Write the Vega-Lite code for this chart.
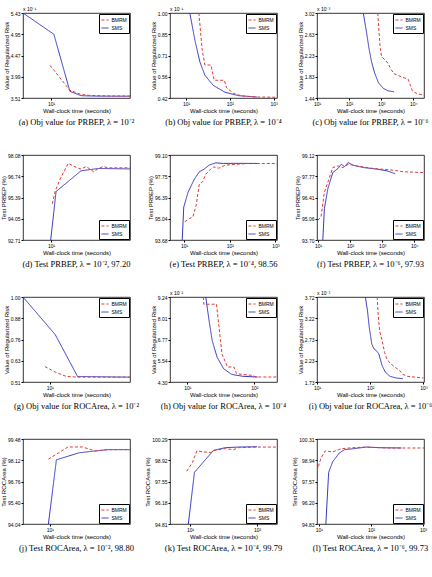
{
  "$schema": "https://vega.github.io/schema/vega-lite/v6.json",
  "padding": {"left": 0, "top": 6, "right": 0, "bottom": 0},
  "bounds": "flush",
  "columns": 3,
  "spacing": {"column": 40, "row": 57},
  "config": {
    "font": "Liberation Sans",
    "view": {"stroke": "black", "strokeWidth": 0.8},
    "axis": {"grid": false, "domain": false, "labelFontSize": 5, "titleFontSize": 6, "titleFontWeight": "normal", "tickSize": 2, "tickColor": "black", "labelColor": "black", "titleColor": "black", "labelPadding": 1, "titlePadding": 1, "labelOverlap": false, "labelFlush": false},
    "title": {"font": "Liberation Serif", "fontSize": 8.5, "fontWeight": "normal", "orient": "bottom", "offset": 5, "color": "black", "anchor": "middle"},
    "legend": {"title": null, "strokeColor": "black", "fillColor": "white", "padding": 1.5, "labelFontSize": 5, "symbolType": "stroke", "symbolSize": 50, "symbolStrokeWidth": 1, "rowPadding": 0, "offset": 1, "cornerRadius": 0, "labelLimit": 40, "labelOffset": 2}
  },
  "resolve": {"scale": {"x": "independent", "y": "independent", "color": "independent", "strokeDash": "independent"}, "legend": {"color": "independent", "strokeDash": "independent"}},
  "data": {"values": [
    {"p":"a","m":"SMS","t":5,"v":5.43},{"p":"a","m":"SMS","t":10.7,"v":4.95},{"p":"a","m":"SMS","t":15.9,"v":3.66},{"p":"a","m":"SMS","t":20.9,"v":3.563},{"p":"a","m":"SMS","t":30,"v":3.552},{"p":"a","m":"SMS","t":70,"v":3.55},
    {"p":"a","m":"BMRM","t":9.75,"v":4.246},{"p":"a","m":"BMRM","t":15.9,"v":3.685},{"p":"a","m":"BMRM","t":20.9,"v":3.59},{"p":"a","m":"BMRM","t":25.4,"v":3.57},{"p":"a","m":"BMRM","t":40,"v":3.556},{"p":"a","m":"BMRM","t":70,"v":3.555},

    {"p":"b","m":"SMS","t":12.2,"v":1.0},{"p":"b","m":"SMS","t":15.8,"v":0.819},{"p":"b","m":"SMS","t":20.6,"v":0.668},{"p":"b","m":"SMS","t":26.9,"v":0.575},{"p":"b","m":"SMS","t":41.8,"v":0.506},{"p":"b","m":"SMS","t":77.5,"v":0.459},{"p":"b","m":"SMS","t":157,"v":0.436},{"p":"b","m":"SMS","t":413,"v":0.427},
    {"p":"b","m":"BMRM","t":19.6,"v":1.0},{"p":"b","m":"BMRM","t":23.3,"v":0.749},{"p":"b","m":"BMRM","t":26.9,"v":0.645},{"p":"b","m":"BMRM","t":36.9,"v":0.645},{"p":"b","m":"BMRM","t":44,"v":0.541},{"p":"b","m":"BMRM","t":74.6,"v":0.541},{"p":"b","m":"BMRM","t":84.4,"v":0.49},{"p":"b","m":"BMRM","t":120,"v":0.452},{"p":"b","m":"BMRM","t":187,"v":0.434},{"p":"b","m":"BMRM","t":379,"v":0.427},{"p":"b","m":"BMRM","t":1190,"v":0.425},

    {"p":"c","m":"SMS","t":276,"v":3.02},{"p":"c","m":"SMS","t":347,"v":2.67},{"p":"c","m":"SMS","t":415,"v":2.364},{"p":"c","m":"SMS","t":497,"v":2.12},{"p":"c","m":"SMS","t":622,"v":1.908},{"p":"c","m":"SMS","t":816,"v":1.726},{"p":"c","m":"SMS","t":1146,"v":1.622},{"p":"c","m":"SMS","t":1607,"v":1.574},{"p":"c","m":"SMS","t":2524,"v":1.556},
    {"p":"c","m":"BMRM","t":780,"v":3.02},{"p":"c","m":"BMRM","t":853,"v":2.67},{"p":"c","m":"BMRM","t":933,"v":2.364},{"p":"c","m":"BMRM","t":1023,"v":2.212},{"p":"c","m":"BMRM","t":1282,"v":2.151},{"p":"c","m":"BMRM","t":1607,"v":2.09},{"p":"c","m":"BMRM","t":2014,"v":1.97},{"p":"c","m":"BMRM","t":2524,"v":1.89},{"p":"c","m":"BMRM","t":4436,"v":1.829},{"p":"c","m":"BMRM","t":6966,"v":1.786},{"p":"c","m":"BMRM","t":8163,"v":1.665},{"p":"c","m":"BMRM","t":9340,"v":1.574},{"p":"c","m":"BMRM","t":13750,"v":1.513},{"p":"c","m":"BMRM","t":21500,"v":1.5},

    {"p":"d","m":"SMS","t":9.9,"v":92.71},{"p":"d","m":"SMS","t":11.3,"v":95.77},{"p":"d","m":"SMS","t":20.9,"v":97.08},{"p":"d","m":"SMS","t":32.1,"v":97.23},{"p":"d","m":"SMS","t":70,"v":97.2},
    {"p":"d","m":"BMRM","t":10.3,"v":95.0},{"p":"d","m":"BMRM","t":11.1,"v":95.83},{"p":"d","m":"BMRM","t":12.5,"v":96.56},{"p":"d","m":"BMRM","t":15.3,"v":97.56},{"p":"d","m":"BMRM","t":17.1,"v":97.39},{"p":"d","m":"BMRM","t":20.9,"v":97.19},{"p":"d","m":"BMRM","t":23.8,"v":97.35},{"p":"d","m":"BMRM","t":28.6,"v":97.02},{"p":"d","m":"BMRM","t":32.1,"v":97.23},{"p":"d","m":"BMRM","t":36.1,"v":97.35},{"p":"d","m":"BMRM","t":40.7,"v":97.27},{"p":"d","m":"BMRM","t":70,"v":97.27},

    {"p":"e","m":"SMS","t":9.07,"v":93.68},{"p":"e","m":"SMS","t":9.8,"v":95.78},{"p":"e","m":"SMS","t":12.2,"v":96.73},{"p":"e","m":"SMS","t":16.8,"v":97.57},{"p":"e","m":"SMS","t":21.5,"v":98.03},{"p":"e","m":"SMS","t":27.4,"v":98.2},{"p":"e","m":"SMS","t":35.1,"v":98.45},{"p":"e","m":"SMS","t":48.7,"v":98.6},{"p":"e","m":"SMS","t":73.1,"v":98.56},{"p":"e","m":"SMS","t":119,"v":98.57},{"p":"e","m":"SMS","t":406,"v":98.56},
    {"p":"e","m":"BMRM","t":10.3,"v":94.84},{"p":"e","m":"BMRM","t":13.1,"v":95.05},{"p":"e","m":"BMRM","t":15.5,"v":95.15},{"p":"e","m":"BMRM","t":18.3,"v":95.89},{"p":"e","m":"BMRM","t":21.5,"v":97.25},{"p":"e","m":"BMRM","t":25.4,"v":97.4},{"p":"e","m":"BMRM","t":29.8,"v":97.88},{"p":"e","m":"BMRM","t":38.1,"v":98.2},{"p":"e","m":"BMRM","t":44.8,"v":98.34},{"p":"e","m":"BMRM","t":57.2,"v":98.26},{"p":"e","m":"BMRM","t":79.4,"v":98.45},{"p":"e","m":"BMRM","t":141,"v":98.51},{"p":"e","m":"BMRM","t":249,"v":98.56},{"p":"e","m":"BMRM","t":1080,"v":98.56},

    {"p":"f","m":"SMS","t":14.1,"v":93.7},{"p":"f","m":"SMS","t":15.8,"v":95.7},{"p":"f","m":"SMS","t":20.2,"v":96.96},{"p":"f","m":"SMS","t":29,"v":98.01},{"p":"f","m":"SMS","t":41.8,"v":98.26},{"p":"f","m":"SMS","t":53.2,"v":98.53},{"p":"f","m":"SMS","t":67.6,"v":98.38},{"p":"f","m":"SMS","t":86.5,"v":98.64},{"p":"f","m":"SMS","t":124,"v":98.47},{"p":"f","m":"SMS","t":257,"v":98.32},{"p":"f","m":"SMS","t":676,"v":98.22},{"p":"f","m":"SMS","t":1397,"v":98.11},{"p":"f","m":"SMS","t":2270,"v":97.96},{"p":"f","m":"SMS","t":2550,"v":97.93},
    {"p":"f","m":"BMRM","t":9.8,"v":94.96},{"p":"f","m":"BMRM","t":12.4,"v":95.17},{"p":"f","m":"BMRM","t":15.8,"v":96.75},{"p":"f","m":"BMRM","t":20.2,"v":97.38},{"p":"f","m":"BMRM","t":29,"v":98.32},{"p":"f","m":"BMRM","t":41.8,"v":98.43},{"p":"f","m":"BMRM","t":60.2,"v":98.32},{"p":"f","m":"BMRM","t":86.5,"v":98.53},{"p":"f","m":"BMRM","t":158,"v":98.43},{"p":"f","m":"BMRM","t":532,"v":98.26},{"p":"f","m":"BMRM","t":1780,"v":98.17},{"p":"f","m":"BMRM","t":4700,"v":98.05},{"p":"f","m":"BMRM","t":20000,"v":98.0},

    {"p":"g","m":"SMS","t":5.5,"v":1.0},{"p":"g","m":"SMS","t":11.3,"v":0.783},{"p":"g","m":"SMS","t":18.6,"v":0.542},{"p":"g","m":"SMS","t":60,"v":0.538},
    {"p":"g","m":"BMRM","t":8.97,"v":0.599},{"p":"g","m":"BMRM","t":11.3,"v":0.567},{"p":"g","m":"BMRM","t":14.5,"v":0.542},{"p":"g","m":"BMRM","t":18.6,"v":0.538},{"p":"g","m":"BMRM","t":60,"v":0.538},

    {"p":"h","m":"SMS","t":18.8,"v":9.24},{"p":"h","m":"SMS","t":21.1,"v":7.86},{"p":"h","m":"SMS","t":23.5,"v":6.7},{"p":"h","m":"SMS","t":27.8,"v":5.74},{"p":"h","m":"SMS","t":34.8,"v":5.07},{"p":"h","m":"SMS","t":45.9,"v":4.74},{"p":"h","m":"SMS","t":67.6,"v":4.63},{"p":"h","m":"SMS","t":112,"v":4.59},
    {"p":"h","m":"BMRM","t":17.4,"v":9.24},{"p":"h","m":"BMRM","t":17.6,"v":8.82},{"p":"h","m":"BMRM","t":27.2,"v":8.82},{"p":"h","m":"BMRM","t":32.9,"v":5.93},{"p":"h","m":"BMRM","t":39.7,"v":5.17},{"p":"h","m":"BMRM","t":49.7,"v":5.17},{"p":"h","m":"BMRM","t":54.3,"v":4.78},{"p":"h","m":"BMRM","t":94.6,"v":4.68},{"p":"h","m":"BMRM","t":106,"v":4.59},{"p":"h","m":"BMRM","t":218,"v":4.59},

    {"p":"i","m":"SMS","t":81,"v":3.72},{"p":"i","m":"SMS","t":89,"v":3.395},{"p":"i","m":"SMS","t":96,"v":3.008},{"p":"i","m":"SMS","t":107,"v":2.62},{"p":"i","m":"SMS","t":118,"v":2.504},{"p":"i","m":"SMS","t":130,"v":2.466},{"p":"i","m":"SMS","t":145,"v":2.388},{"p":"i","m":"SMS","t":167,"v":2.117},{"p":"i","m":"SMS","t":192,"v":1.962},{"p":"i","m":"SMS","t":236,"v":1.862},{"p":"i","m":"SMS","t":310,"v":1.823},{"p":"i","m":"SMS","t":410,"v":1.808},
    {"p":"i","m":"BMRM","t":135,"v":3.72},{"p":"i","m":"BMRM","t":141,"v":3.317},{"p":"i","m":"BMRM","t":150,"v":2.93},{"p":"i","m":"BMRM","t":167,"v":2.7},{"p":"i","m":"BMRM","t":186,"v":2.427},{"p":"i","m":"BMRM","t":205,"v":2.272},{"p":"i","m":"BMRM","t":236,"v":2.171},{"p":"i","m":"BMRM","t":290,"v":2.078},{"p":"i","m":"BMRM","t":357,"v":2.0},{"p":"i","m":"BMRM","t":410,"v":1.908},{"p":"i","m":"BMRM","t":505,"v":1.862},{"p":"i","m":"BMRM","t":666,"v":1.846},{"p":"i","m":"BMRM","t":1000,"v":1.823},

    {"p":"j","m":"SMS","t":9.7,"v":94.04},{"p":"j","m":"SMS","t":11.6,"v":98.15},{"p":"j","m":"SMS","t":19.3,"v":98.6},{"p":"j","m":"SMS","t":36.6,"v":98.8},{"p":"j","m":"SMS","t":60,"v":98.8},
    {"p":"j","m":"BMRM","t":9.7,"v":98.19},{"p":"j","m":"BMRM","t":12.2,"v":98.6},{"p":"j","m":"BMRM","t":15,"v":98.97},{"p":"j","m":"BMRM","t":20.7,"v":98.97},{"p":"j","m":"BMRM","t":27.5,"v":98.72},{"p":"j","m":"BMRM","t":36.6,"v":98.8},{"p":"j","m":"BMRM","t":60,"v":98.8},

    {"p":"k","m":"SMS","t":9.4,"v":94.81},{"p":"k","m":"SMS","t":11.6,"v":98.14},{"p":"k","m":"SMS","t":16.8,"v":98.94},{"p":"k","m":"SMS","t":22.4,"v":99.56},{"p":"k","m":"SMS","t":33.5,"v":99.73},{"p":"k","m":"SMS","t":53,"v":99.77},{"p":"k","m":"SMS","t":100,"v":99.79},
    {"p":"k","m":"BMRM","t":8.9,"v":98.21},{"p":"k","m":"BMRM","t":10.8,"v":98.77},{"p":"k","m":"BMRM","t":12.6,"v":99.52},{"p":"k","m":"BMRM","t":15.8,"v":99.46},{"p":"k","m":"BMRM","t":20,"v":99.42},{"p":"k","m":"BMRM","t":23.7,"v":99.56},{"p":"k","m":"BMRM","t":33.5,"v":99.67},{"p":"k","m":"BMRM","t":44.6,"v":99.6},{"p":"k","m":"BMRM","t":53,"v":99.73},{"p":"k","m":"BMRM","t":100,"v":99.77},{"p":"k","m":"BMRM","t":199,"v":99.77},

    {"p":"l","m":"SMS","t":13.6,"v":94.83},{"p":"l","m":"SMS","t":15.4,"v":98.16},{"p":"l","m":"SMS","t":18.4,"v":98.85},{"p":"l","m":"SMS","t":24.7,"v":99.41},{"p":"l","m":"SMS","t":30.9,"v":99.62},{"p":"l","m":"SMS","t":44.8,"v":99.68},{"p":"l","m":"SMS","t":81,"v":99.79},{"p":"l","m":"SMS","t":147,"v":99.75},{"p":"l","m":"SMS","t":385,"v":99.73},
    {"p":"l","m":"BMRM","t":9.2,"v":98.23},{"p":"l","m":"BMRM","t":10.9,"v":99.06},{"p":"l","m":"BMRM","t":13.2,"v":99.54},{"p":"l","m":"BMRM","t":18.4,"v":99.48},{"p":"l","m":"BMRM","t":26.7,"v":99.68},{"p":"l","m":"BMRM","t":44.8,"v":99.75},{"p":"l","m":"BMRM","t":81,"v":99.79},{"p":"l","m":"BMRM","t":198,"v":99.73},{"p":"l","m":"BMRM","t":1040,"v":99.73}
  ]},
  "concat": [
    {"width": 107, "height": 85, "title": {"text": "(a) Obj value for PRBEP, λ = 10⁻²"},
     "layer": [
      {"transform": [{"filter": "datum.p == 'a'"}], "mark": {"type": "line", "strokeWidth": 1, "clip": true},
       "encoding": {
        "x": {"field": "t", "type": "quantitative", "scale": {"type": "log", "domain": [5, 70], "nice": false}, "axis": {"values": [10], "labelExpr": "'10' + ['⁰','¹','²','³','⁴'][round(log(datum.value)/LN10)]", "title": "Wall-clock time (seconds)"}},
        "y": {"field": "v", "type": "quantitative", "scale": {"domain": [3.51, 5.43], "nice": false, "zero": false}, "axis": {"values": [3.51, 3.99, 4.47, 4.95, 5.43], "format": ".2f", "title": "Value of Regularized Risk"}},
        "color": {"field": "m", "type": "nominal", "scale": {"domain": ["BMRM", "SMS"], "range": ["#e03a3a", "#3535c8"]}, "legend": {"orient": "top-right"}},
        "strokeDash": {"field": "m", "type": "nominal", "scale": {"domain": ["BMRM", "SMS"], "range": [[3, 2], [1, 0]]}, "legend": {"orient": "top-right"}}}},
      {"data": {"values": [{}]}, "mark": {"type": "text", "align": "left", "baseline": "bottom", "fontSize": 5, "dy": -1},
       "encoding": {
        "x": {"datum": 5, "type": "quantitative", "axis": {"values": [10], "labelExpr": "'10' + ['⁰','¹','²','³','⁴'][round(log(datum.value)/LN10)]", "title": "Wall-clock time (seconds)"}},
        "y": {"datum": 5.43, "type": "quantitative", "axis": {"values": [3.51, 3.99, 4.47, 4.95, 5.43], "format": ".2f", "title": "Value of Regularized Risk"}},
        "text": {"value": "x 10⁻¹"}}}
     ]},
    {"width": 107, "height": 85, "title": {"text": "(b) Obj value for PRBEP, λ = 10⁻⁴"},
     "layer": [
      {"transform": [{"filter": "datum.p == 'b'"}], "mark": {"type": "line", "strokeWidth": 1, "clip": true},
       "encoding": {
        "x": {"field": "t", "type": "quantitative", "scale": {"type": "log", "domain": [4.3, 1190], "nice": false}, "axis": {"values": [10, 100, 1000], "labelExpr": "'10' + ['⁰','¹','²','³','⁴'][round(log(datum.value)/LN10)]", "title": "Wall-clock time (seconds)"}},
        "y": {"field": "v", "type": "quantitative", "scale": {"domain": [0.42, 1.0], "nice": false, "zero": false}, "axis": {"values": [0.42, 0.565, 0.71, 0.855, 1.0], "format": ".2f", "title": "Value of Regularized Risk"}},
        "color": {"field": "m", "type": "nominal", "scale": {"domain": ["BMRM", "SMS"], "range": ["#e03a3a", "#3535c8"]}, "legend": {"orient": "top-right"}},
        "strokeDash": {"field": "m", "type": "nominal", "scale": {"domain": ["BMRM", "SMS"], "range": [[3, 2], [1, 0]]}, "legend": {"orient": "top-right"}}}},
      {"data": {"values": [{}]}, "mark": {"type": "text", "align": "left", "baseline": "bottom", "fontSize": 5, "dy": -1},
       "encoding": {
        "x": {"datum": 4.3, "type": "quantitative", "axis": {"values": [10, 100, 1000], "labelExpr": "'10' + ['⁰','¹','²','³','⁴'][round(log(datum.value)/LN10)]", "title": "Wall-clock time (seconds)"}},
        "y": {"datum": 1.0, "type": "quantitative", "axis": {"values": [0.42, 0.565, 0.71, 0.855, 1.0], "format": ".2f", "title": "Value of Regularized Risk"}},
        "text": {"value": "x 10⁻¹"}}}
     ]},
    {"width": 107, "height": 85, "title": {"text": "(c) Obj value for PRBEP, λ = 10⁻⁶"},
     "layer": [
      {"transform": [{"filter": "datum.p == 'c'"}], "mark": {"type": "line", "strokeWidth": 1, "clip": true},
       "encoding": {
        "x": {"field": "t", "type": "quantitative", "scale": {"type": "log", "domain": [10, 21500], "nice": false}, "axis": {"values": [10, 100, 1000, 10000], "labelExpr": "'10' + ['⁰','¹','²','³','⁴'][round(log(datum.value)/LN10)]", "title": "Wall-clock time (seconds)"}},
        "y": {"field": "v", "type": "quantitative", "scale": {"domain": [1.44, 3.02], "nice": false, "zero": false}, "axis": {"values": [1.44, 1.835, 2.23, 2.625, 3.02], "format": ".2f", "title": "Value of Regularized Risk"}},
        "color": {"field": "m", "type": "nominal", "scale": {"domain": ["BMRM", "SMS"], "range": ["#e03a3a", "#3535c8"]}, "legend": {"orient": "top-right"}},
        "strokeDash": {"field": "m", "type": "nominal", "scale": {"domain": ["BMRM", "SMS"], "range": [[3, 2], [1, 0]]}, "legend": {"orient": "top-right"}}}},
      {"data": {"values": [{}]}, "mark": {"type": "text", "align": "left", "baseline": "bottom", "fontSize": 5, "dy": -1},
       "encoding": {
        "x": {"datum": 10, "type": "quantitative", "axis": {"values": [10, 100, 1000, 10000], "labelExpr": "'10' + ['⁰','¹','²','³','⁴'][round(log(datum.value)/LN10)]", "title": "Wall-clock time (seconds)"}},
        "y": {"datum": 3.02, "type": "quantitative", "axis": {"values": [1.44, 1.835, 2.23, 2.625, 3.02], "format": ".2f", "title": "Value of Regularized Risk"}},
        "text": {"value": "x 10⁻³"}}}
     ]},
    {"width": 107, "height": 85, "title": {"text": "(d) Test PRBEP, λ = 10⁻², 97.20"},
     "layer": [
      {"transform": [{"filter": "datum.p == 'd'"}], "mark": {"type": "line", "strokeWidth": 1, "clip": true},
       "encoding": {
        "x": {"field": "t", "type": "quantitative", "scale": {"type": "log", "domain": [5, 70], "nice": false}, "axis": {"values": [10], "labelExpr": "'10' + ['⁰','¹','²','³','⁴'][round(log(datum.value)/LN10)]", "title": "Wall-clock time (seconds)"}},
        "y": {"field": "v", "type": "quantitative", "scale": {"domain": [92.71, 98.08], "nice": false, "zero": false}, "axis": {"values": [92.71, 94.05, 95.39, 96.74, 98.08], "format": ".2f", "title": "Test PRBEP (%)"}},
        "color": {"field": "m", "type": "nominal", "scale": {"domain": ["BMRM", "SMS"], "range": ["#e03a3a", "#3535c8"]}, "legend": {"orient": "bottom-right"}},
        "strokeDash": {"field": "m", "type": "nominal", "scale": {"domain": ["BMRM", "SMS"], "range": [[3, 2], [1, 0]]}, "legend": {"orient": "bottom-right"}}}}
     ]},
    {"width": 107, "height": 85, "title": {"text": "(e) Test PRBEP, λ = 10⁻⁴, 98.56"},
     "layer": [
      {"transform": [{"filter": "datum.p == 'e'"}], "mark": {"type": "line", "strokeWidth": 1, "clip": true},
       "encoding": {
        "x": {"field": "t", "type": "quantitative", "scale": {"type": "log", "domain": [4.9, 1080], "nice": false}, "axis": {"values": [10, 100, 1000], "labelExpr": "'10' + ['⁰','¹','²','³','⁴'][round(log(datum.value)/LN10)]", "title": "Wall-clock time (seconds)"}},
        "y": {"field": "v", "type": "quantitative", "scale": {"domain": [93.68, 99.1], "nice": false, "zero": false}, "axis": {"values": [93.68, 95.04, 96.39, 97.75, 99.1], "format": ".2f", "title": "Test PRBEP (%)"}},
        "color": {"field": "m", "type": "nominal", "scale": {"domain": ["BMRM", "SMS"], "range": ["#e03a3a", "#3535c8"]}, "legend": {"orient": "bottom-right"}},
        "strokeDash": {"field": "m", "type": "nominal", "scale": {"domain": ["BMRM", "SMS"], "range": [[3, 2], [1, 0]]}, "legend": {"orient": "bottom-right"}}}}
     ]},
    {"width": 107, "height": 85, "title": {"text": "(f) Test PRBEP, λ = 10⁻⁶, 97.93"},
     "layer": [
      {"transform": [{"filter": "datum.p == 'f'"}], "mark": {"type": "line", "strokeWidth": 1, "clip": true},
       "encoding": {
        "x": {"field": "t", "type": "quantitative", "scale": {"type": "log", "domain": [9.3, 20000], "nice": false}, "axis": {"values": [10, 100, 1000, 10000], "labelExpr": "'10' + ['⁰','¹','²','³','⁴'][round(log(datum.value)/LN10)]", "title": "Wall-clock time (seconds)"}},
        "y": {"field": "v", "type": "quantitative", "scale": {"domain": [93.7, 99.12], "nice": false, "zero": false}, "axis": {"values": [93.7, 95.06, 96.41, 97.77, 99.12], "format": ".2f", "title": "Test PRBEP (%)"}},
        "color": {"field": "m", "type": "nominal", "scale": {"domain": ["BMRM", "SMS"], "range": ["#e03a3a", "#3535c8"]}, "legend": {"orient": "bottom-right"}},
        "strokeDash": {"field": "m", "type": "nominal", "scale": {"domain": ["BMRM", "SMS"], "range": [[3, 2], [1, 0]]}, "legend": {"orient": "bottom-right"}}}}
     ]},
    {"width": 107, "height": 85, "title": {"text": "(g) Obj value for ROCArea, λ = 10⁻²"},
     "layer": [
      {"transform": [{"filter": "datum.p == 'g'"}], "mark": {"type": "line", "strokeWidth": 1, "clip": true},
       "encoding": {
        "x": {"field": "t", "type": "quantitative", "scale": {"type": "log", "domain": [5.5, 60], "nice": false}, "axis": {"values": [10], "labelExpr": "'10' + ['⁰','¹','²','³','⁴'][round(log(datum.value)/LN10)]", "title": "Wall-clock time (seconds)"}},
        "y": {"field": "v", "type": "quantitative", "scale": {"domain": [0.51, 1.0], "nice": false, "zero": false}, "axis": {"values": [0.51, 0.6325, 0.755, 0.8775, 1.0], "format": ".2f", "title": "Value of Regularized Risk"}},
        "color": {"field": "m", "type": "nominal", "scale": {"domain": ["BMRM", "SMS"], "range": ["#e03a3a", "#3535c8"]}, "legend": {"orient": "top-right"}},
        "strokeDash": {"field": "m", "type": "nominal", "scale": {"domain": ["BMRM", "SMS"], "range": [[3, 2], [1, 0]]}, "legend": {"orient": "top-right"}}}}
     ]},
    {"width": 107, "height": 85, "title": {"text": "(h) Obj value for ROCArea, λ = 10⁻⁴"},
     "layer": [
      {"transform": [{"filter": "datum.p == 'h'"}], "mark": {"type": "line", "strokeWidth": 1, "clip": true},
       "encoding": {
        "x": {"field": "t", "type": "quantitative", "scale": {"type": "log", "domain": [5.5, 218], "nice": false}, "axis": {"values": [10, 100], "labelExpr": "'10' + ['⁰','¹','²','³','⁴'][round(log(datum.value)/LN10)]", "title": "Wall-clock time (seconds)"}},
        "y": {"field": "v", "type": "quantitative", "scale": {"domain": [4.3, 9.24], "nice": false, "zero": false}, "axis": {"values": [4.3, 5.535, 6.77, 8.005, 9.24], "format": ".2f", "title": "Value of Regularized Risk"}},
        "color": {"field": "m", "type": "nominal", "scale": {"domain": ["BMRM", "SMS"], "range": ["#e03a3a", "#3535c8"]}, "legend": {"orient": "top-right"}},
        "strokeDash": {"field": "m", "type": "nominal", "scale": {"domain": ["BMRM", "SMS"], "range": [[3, 2], [1, 0]]}, "legend": {"orient": "top-right"}}}},
      {"data": {"values": [{}]}, "mark": {"type": "text", "align": "left", "baseline": "bottom", "fontSize": 5, "dy": -1},
       "encoding": {
        "x": {"datum": 5.5, "type": "quantitative", "axis": {"values": [10, 100], "labelExpr": "'10' + ['⁰','¹','²','³','⁴'][round(log(datum.value)/LN10)]", "title": "Wall-clock time (seconds)"}},
        "y": {"datum": 9.24, "type": "quantitative", "axis": {"values": [4.3, 5.535, 6.77, 8.005, 9.24], "format": ".2f", "title": "Value of Regularized Risk"}},
        "text": {"value": "x 10⁻²"}}}
     ]},
    {"width": 107, "height": 85, "title": {"text": "(i) Obj value for ROCArea, λ = 10⁻⁶"},
     "layer": [
      {"transform": [{"filter": "datum.p == 'i'"}], "mark": {"type": "line", "strokeWidth": 1, "clip": true},
       "encoding": {
        "x": {"field": "t", "type": "quantitative", "scale": {"type": "log", "domain": [10, 1025], "nice": false}, "axis": {"values": [10, 100, 1000], "labelExpr": "'10' + ['⁰','¹','²','³','⁴'][round(log(datum.value)/LN10)]", "title": "Wall-clock time (seconds)"}},
        "y": {"field": "v", "type": "quantitative", "scale": {"domain": [1.73, 3.72], "nice": false, "zero": false}, "axis": {"values": [1.73, 2.2275, 2.725, 3.2225, 3.72], "format": ".2f", "title": "Value of Regularized Risk"}},
        "color": {"field": "m", "type": "nominal", "scale": {"domain": ["BMRM", "SMS"], "range": ["#e03a3a", "#3535c8"]}, "legend": {"orient": "top-right"}},
        "strokeDash": {"field": "m", "type": "nominal", "scale": {"domain": ["BMRM", "SMS"], "range": [[3, 2], [1, 0]]}, "legend": {"orient": "top-right"}}}},
      {"data": {"values": [{}]}, "mark": {"type": "text", "align": "left", "baseline": "bottom", "fontSize": 5, "dy": -1},
       "encoding": {
        "x": {"datum": 10, "type": "quantitative", "axis": {"values": [10, 100, 1000], "labelExpr": "'10' + ['⁰','¹','²','³','⁴'][round(log(datum.value)/LN10)]", "title": "Wall-clock time (seconds)"}},
        "y": {"datum": 3.72, "type": "quantitative", "axis": {"values": [1.73, 2.2275, 2.725, 3.2225, 3.72], "format": ".2f", "title": "Value of Regularized Risk"}},
        "text": {"value": "x 10⁻³"}}}
     ]},
    {"width": 107, "height": 85, "title": {"text": "(j) Test ROCArea, λ = 10⁻², 98.80"},
     "layer": [
      {"transform": [{"filter": "datum.p == 'j'"}], "mark": {"type": "line", "strokeWidth": 1, "clip": true},
       "encoding": {
        "x": {"field": "t", "type": "quantitative", "scale": {"type": "log", "domain": [5.5, 60], "nice": false}, "axis": {"values": [10], "labelExpr": "'10' + ['⁰','¹','²','³','⁴'][round(log(datum.value)/LN10)]", "title": "Wall-clock time (seconds)"}},
        "y": {"field": "v", "type": "quantitative", "scale": {"domain": [94.04, 99.48], "nice": false, "zero": false}, "axis": {"values": [94.04, 95.4, 96.76, 98.12, 99.48], "format": ".2f", "title": "Test ROCArea (%)"}},
        "color": {"field": "m", "type": "nominal", "scale": {"domain": ["BMRM", "SMS"], "range": ["#e03a3a", "#3535c8"]}, "legend": {"orient": "bottom-right"}},
        "strokeDash": {"field": "m", "type": "nominal", "scale": {"domain": ["BMRM", "SMS"], "range": [[3, 2], [1, 0]]}, "legend": {"orient": "bottom-right"}}}}
     ]},
    {"width": 107, "height": 85, "title": {"text": "(k) Test ROCArea, λ = 10⁻⁴, 99.79"},
     "layer": [
      {"transform": [{"filter": "datum.p == 'k'"}], "mark": {"type": "line", "strokeWidth": 1, "clip": true},
       "encoding": {
        "x": {"field": "t", "type": "quantitative", "scale": {"type": "log", "domain": [5, 199], "nice": false}, "axis": {"values": [10, 100], "labelExpr": "'10' + ['⁰','¹','²','³','⁴'][round(log(datum.value)/LN10)]", "title": "Wall-clock time (seconds)"}},
        "y": {"field": "v", "type": "quantitative", "scale": {"domain": [94.81, 100.29], "nice": false, "zero": false}, "axis": {"values": [94.81, 96.18, 97.55, 98.92, 100.29], "format": ".2f", "title": "Test ROCArea (%)"}},
        "color": {"field": "m", "type": "nominal", "scale": {"domain": ["BMRM", "SMS"], "range": ["#e03a3a", "#3535c8"]}, "legend": {"orient": "bottom-right"}},
        "strokeDash": {"field": "m", "type": "nominal", "scale": {"domain": ["BMRM", "SMS"], "range": [[3, 2], [1, 0]]}, "legend": {"orient": "bottom-right"}}}}
     ]},
    {"width": 107, "height": 85, "title": {"text": "(l) Test ROCArea, λ = 10⁻⁶, 99.73"},
     "layer": [
      {"transform": [{"filter": "datum.p == 'l'"}], "mark": {"type": "line", "strokeWidth": 1, "clip": true},
       "encoding": {
        "x": {"field": "t", "type": "quantitative", "scale": {"type": "log", "domain": [9.2, 1040], "nice": false}, "axis": {"values": [10, 100, 1000], "labelExpr": "'10' + ['⁰','¹','²','³','⁴'][round(log(datum.value)/LN10)]", "title": "Wall-clock time (seconds)"}},
        "y": {"field": "v", "type": "quantitative", "scale": {"domain": [94.83, 100.31], "nice": false, "zero": false}, "axis": {"values": [94.83, 96.2, 97.57, 98.94, 100.31], "format": ".2f", "title": "Test ROCArea (%)"}},
        "color": {"field": "m", "type": "nominal", "scale": {"domain": ["BMRM", "SMS"], "range": ["#e03a3a", "#3535c8"]}, "legend": {"orient": "bottom-right"}},
        "strokeDash": {"field": "m", "type": "nominal", "scale": {"domain": ["BMRM", "SMS"], "range": [[3, 2], [1, 0]]}, "legend": {"orient": "bottom-right"}}}}
     ]}
  ]
}
